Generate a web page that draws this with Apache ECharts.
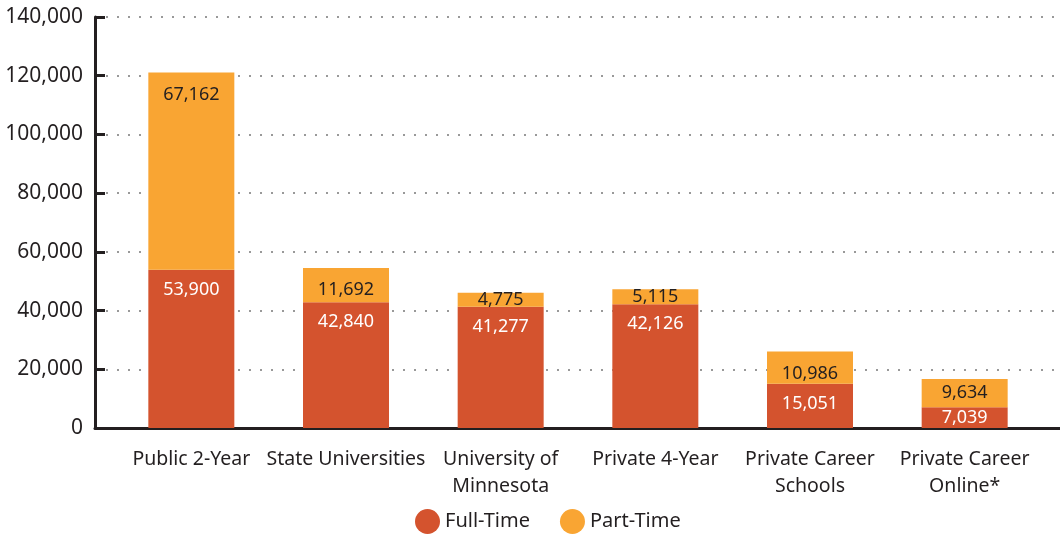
<!DOCTYPE html>
<html>
<head>
<meta charset="utf-8">
<script src="https://cdn.jsdelivr.net/npm/echarts@6/dist/echarts.min.js"></script>
<style>
  html, body { margin: 0; padding: 0; background: #fff; }
  #chart { width: 1060px; height: 535px; }
</style>
</head>
<body>
<div id="chart"></div>
<script>
var categories = ['Public 2-Year', 'State Universities', 'University of\nMinnesota', 'Private 4-Year', 'Private Career\nSchools', 'Private Career\nOnline*'];
var fullTime = [53900, 42840, 41277, 42126, 15051, 7039];
var partTime = [67162, 11692, 4775, 5115, 10986, 9634];
var yMax = 140000;
var yStep = 20000;

var font = 'Noto Sans';
var ink = '#231f20';

function fmt(p) { return p.value.toLocaleString('en-US'); }

// short segments get their label centred instead of hung from the top
function withLabels(values, limit) {
  return values.map(function (v) {
    return v < limit ? { value: v, label: { position: 'inside' } } : v;
  });
}

var chart = echarts.init(document.getElementById('chart'));
chart.setOption({
  animation: false,
  textStyle: { fontFamily: font },
  // grid 0: frame (y axis, dotted lines, baseline); grid 1: the bars
  grid: [
    { left: 95, right: 0, top: 17, bottom: 107 },
    { left: 114, right: 18, top: 17, bottom: 107 }
  ],
  legend: {
    bottom: -4,
    left: 410,
    itemWidth: 25,
    itemHeight: 25,
    itemGap: 30,
    icon: 'circle',
    textStyle: { fontSize: 20, color: ink, fontFamily: font },
    data: ['Full-Time', 'Part-Time']
  },
  xAxis: [
    {
      gridIndex: 0,
      type: 'category',
      data: categories,
      axisLine: { lineStyle: { color: ink, width: 3 } },
      axisTick: { show: false },
      axisLabel: { show: false }
    },
    {
      gridIndex: 1,
      type: 'category',
      data: categories,
      axisLine: { show: false },
      axisTick: { show: false },
      axisLabel: { fontSize: 19.5, color: ink, lineHeight: 27, margin: 18, interval: 0 }
    }
  ],
  yAxis: [
    {
      gridIndex: 0,
      type: 'value',
      min: 0,
      max: yMax,
      interval: yStep,
      axisLine: { show: true, lineStyle: { color: ink, width: 3 } },
      axisTick: { show: true, inside: true, length: 10, lineStyle: { color: ink, width: 3 } },
      axisLabel: {
        fontSize: 21, color: ink, margin: 12,
        formatter: function (v) { return v.toLocaleString('en-US'); }
      },
      splitLine: { lineStyle: { color: '#999', width: 2, type: [2, 9] } }
    },
    {
      gridIndex: 1,
      type: 'value',
      min: 0,
      max: yMax,
      interval: yStep,
      show: false,
      splitLine: { show: false }
    }
  ],
  series: [
    {
      name: 'Full-Time',
      type: 'bar',
      stack: 'total',
      xAxisIndex: 1,
      yAxisIndex: 1,
      barWidth: 86,
      itemStyle: { color: '#d4532e' },
      label: {
        show: true, position: 'insideTop', distance: 11,
        color: '#fff', fontSize: 18, formatter: fmt
      },
      data: withLabels(fullTime, 10000)
    },
    {
      name: 'Part-Time',
      type: 'bar',
      stack: 'total',
      xAxisIndex: 1,
      yAxisIndex: 1,
      barWidth: 86,
      itemStyle: { color: '#f9a533' },
      label: {
        show: true, position: 'insideTop', distance: 13,
        color: ink, fontSize: 18, formatter: fmt
      },
      data: withLabels(partTime, 10000)
    }
  ]
});
</script>
</body>
</html>
